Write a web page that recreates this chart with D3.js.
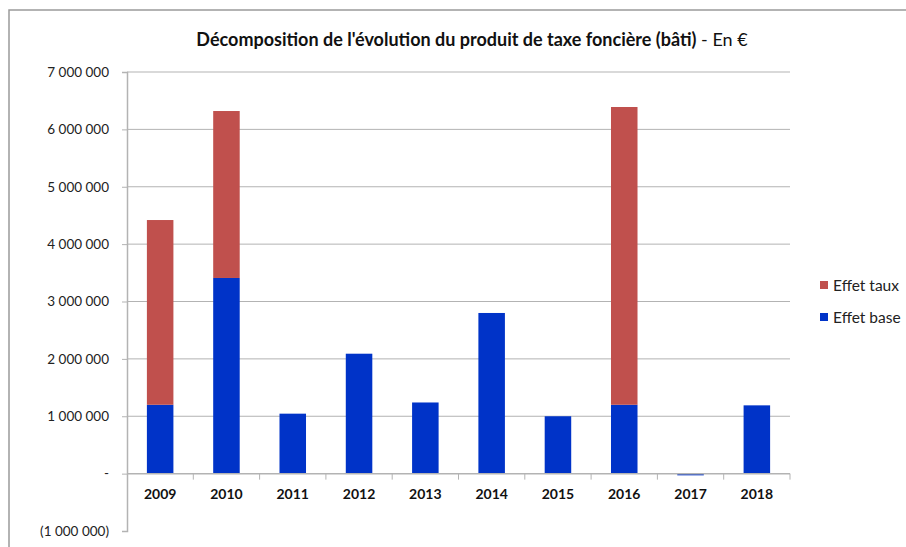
<!DOCTYPE html>
<html>
<head>
<meta charset="utf-8">
<script src="https://cdn.jsdelivr.net/npm/d3@7"></script>
<style>
  body { margin: 0; background: #fff; }
  text { font-family: Lato, "Open Sans", sans-serif; }
</style>
</head>
<body>
<div id="chart"></div>
<script>
// years on the x axis
const years = ["2009", "2010", "2011", "2012", "2013", "2014", "2015", "2016", "2017", "2018"]
// effet base (blue) and effet taux (red), in euros
const effetBase = [1200000, 3410000, 1045000, 2090000, 1240000, 2800000, 1000000, 1200000, -30000, 1190000]
const effetTaux = [3220000, 2910000, 0, 0, 0, 0, 0, 5190000, 0, 0]
const yTicks = [-1000000, 0, 1000000, 2000000, 3000000, 4000000, 5000000, 6000000, 7000000]

const width = 906, height = 547

const svg = d3.select("#chart").append("svg")
  .attr("width", width)
  .attr("height", height)

// outer frame
svg.append("rect")
  .attr("x", 9).attr("y", 10)
  .attr("width", width).attr("height", height)
  .attr("fill", "#fff")
  .attr("stroke", "#9a9a9a")
  .attr("stroke-width", 1.5)

const y = d3.scaleLinear().domain([-1000000, 7000000]).range([531, 72])
const x = d3.scaleBand().domain(years).range([127, 790]).paddingInner(0.6).paddingOuter(0.3)
const xCat = d3.scaleBand().domain(years).range([127, 790])

// format: 7 000 000, "-" for zero, (1 000 000) for negatives
function fmt(v) {
  if (v == 0) return "-"
  let s = d3.format(",")(Math.abs(v)).replace(/,/g, " ")
  return v < 0 ? "(" + s + ")" : s
}

// grid lines
svg.append("g")
  .selectAll("line")
  .data(yTicks.filter(d => d > 0))
  .enter().append("line")
  .attr("x1", 127).attr("x2", 790)
  .attr("y1", d => y(d)).attr("y2", d => y(d))
  .attr("stroke", "#b3b3b3")

// y axis
const yAxis = svg.append("g")
  .attr("transform", "translate(127,0)")
  .call(d3.axisLeft(y).tickValues(yTicks).tickFormat(fmt).tickSize(5).tickPadding(13))
yAxis.select(".domain").attr("stroke", "#b3b3b3").attr("stroke-width", 1.5)
yAxis.selectAll(".tick line").attr("stroke", "#b3b3b3")
yAxis.selectAll(".tick text").attr("font-size", 13.5).attr("fill", "#222")

// stacked bars
const data = years.map((yr, i) => ({ year: yr, base: effetBase[i], taux: effetTaux[i] }))

svg.append("g").selectAll("rect")
  .data(data).enter().append("rect")
  .attr("x", d => x(d.year))
  .attr("width", x.bandwidth())
  .attr("y", d => y(Math.max(0, d.base)))
  .attr("height", d => Math.abs(y(d.base) - y(0)))
  .attr("fill", "#0033c8")

svg.append("g").selectAll("rect")
  .data(data.filter(d => d.taux > 0)).enter().append("rect")
  .attr("x", d => x(d.year))
  .attr("width", x.bandwidth())
  .attr("y", d => y(d.base + d.taux))
  .attr("height", d => y(d.base) - y(d.base + d.taux))
  .attr("fill", "#c0504d")

// x axis at zero
svg.append("line")
  .attr("x1", 127).attr("x2", 790)
  .attr("y1", y(0)).attr("y2", y(0))
  .attr("stroke", "#b3b3b3").attr("stroke-width", 1.5)

const bounds = years.map(d => xCat(d)).concat([790]).slice(1)
svg.append("g").selectAll("line")
  .data(bounds).enter().append("line")
  .attr("x1", d => d).attr("x2", d => d)
  .attr("y1", y(0)).attr("y2", y(0) + 6)
  .attr("stroke", "#b3b3b3")

svg.append("g").selectAll("text")
  .data(years).enter().append("text")
  .attr("x", d => xCat(d) + xCat.bandwidth() / 2)
  .attr("y", 499)
  .attr("text-anchor", "middle")
  .attr("font-size", 14)
  .attr("font-weight", "bold")
  .attr("fill", "#111")
  .text(d => d)

// title
const title = svg.append("text")
  .attr("x", 472).attr("y", 46)
  .attr("text-anchor", "middle")
  .attr("font-size", 18)
  .attr("fill", "#111")
title.append("tspan").attr("font-weight", "bold").text("Décomposition de l'évolution du produit de taxe foncière (bâti)")
title.append("tspan").text(" - En €")

// legend
const legend = [["Effet taux", "#c0504d"], ["Effet base", "#0033c8"]]
const lg = svg.append("g").selectAll("g")
  .data(legend).enter().append("g")
  .attr("transform", (d, i) => "translate(820," + (286 + i * 32) + ")")
lg.append("rect").attr("x", 0).attr("y", -5).attr("width", 8).attr("height", 8).attr("fill", d => d[1])
lg.append("text").attr("x", 13).attr("y", 5).attr("font-size", 15.5).attr("fill", "#222").text(d => d[0])
</script>
</body>
</html>
